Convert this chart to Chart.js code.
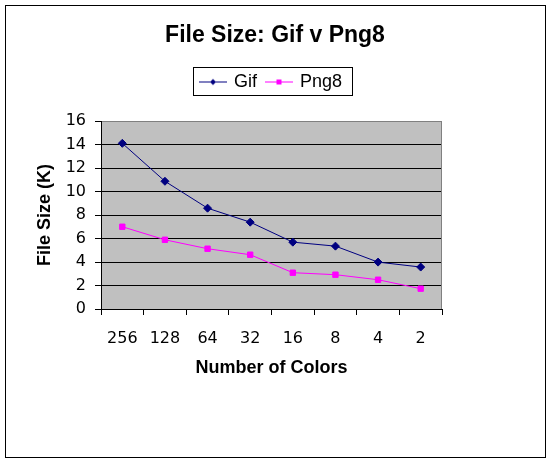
<!DOCTYPE html>
<html><head><meta charset="utf-8">
<script src="https://cdn.jsdelivr.net/npm/chart.js@4"></script>
<style>html,body{margin:0;padding:0;background:#fff}canvas{display:block}</style>
</head><body>
<canvas id="c" width="551" height="463"></canvas>
<script>
const categories = ['256', '128', '64', '32', '16', '8', '4', '2'];
const gifValues = [14.1, 10.87, 8.58, 7.39, 5.69, 5.35, 3.99, 3.57];
const png8Values = [7.0, 5.89, 5.13, 4.62, 3.09, 2.92, 2.49, 1.73];
const yTickValues = [0, 2, 4, 6, 8, 10, 12, 14, 16];
const seriesNames = ['Gif', 'Png8'];
const seriesColors = ['#000080', '#FF00FF'];
const chartTitle = 'File Size: Gif v Png8';
const xTitle = 'Number of Colors';
const yTitle = 'File Size (K)';

const FAM = "'Liberation Sans', Arial, sans-serif";
const TICKFAM = "'DejaVu Sans', 'Liberation Sans', sans-serif";

function makeSymbol(color, shape) {
  const c = document.createElement('canvas');
  c.width = 28; c.height = 9;
  const g = c.getContext('2d');
  g.strokeStyle = color; g.lineWidth = 1;
  g.beginPath(); g.moveTo(0, 4.5); g.lineTo(28, 4.5); g.stroke();
  g.fillStyle = color;
  g.beginPath();
  if (shape === 'diamond') {
    g.moveTo(14, 1.5); g.lineTo(17, 4.5); g.lineTo(14, 7.5); g.lineTo(11, 4.5); g.closePath(); g.fill();
  } else {
    g.fillRect(11.5, 2, 5, 5);
  }
  return c;
}
const legendSymbols = [makeSymbol(seriesColors[0], 'diamond'), makeSymbol(seriesColors[1], 'square')];

const decor = {
  id: 'decor',
  beforeDraw(chart) {
    const ctx = chart.ctx, a = chart.chartArea;
    ctx.save();
    ctx.fillStyle = '#ffffff';
    ctx.fillRect(0, 0, chart.width, chart.height);
    ctx.fillStyle = '#C0C0C0';
    ctx.fillRect(a.left, a.top, a.right - a.left, a.bottom - a.top);
    ctx.restore();
  },
  beforeDatasetsDraw(chart) {
    const ctx = chart.ctx, a = chart.chartArea;
    ctx.save();
    ctx.strokeStyle = '#808080'; ctx.lineWidth = 1;
    ctx.beginPath();
    const x = Math.round(a.right) - 0.5;
    ctx.moveTo(x, Math.round(a.top) + 0.5); ctx.lineTo(x, a.bottom);
    ctx.stroke();
    ctx.restore();
  },
  afterDraw(chart) {
    const ctx = chart.ctx;
    ctx.save();
    ctx.strokeStyle = '#000'; ctx.lineWidth = 1;
    ctx.strokeRect(5.5, 5.5, 540, 452);
    const hb = chart.legend && chart.legend.legendHitBoxes;
    if (hb && hb.length) {
      const first = hb[0], last = hb[hb.length - 1];
      const cy = first.top + 9;
      const l = Math.round(first.left - 8) + 0.5;
      const r = Math.round(last.left + last.width + 10) + 0.5;
      const t = Math.round(cy - 15) + 0.5;
      const b = Math.round(cy + 13) + 0.5;
      ctx.strokeRect(l, t, r - l, b - t);
    }
    ctx.restore();
  }
};

new Chart(document.getElementById('c'), {
  type: 'line',
  data: {
    labels: categories,
    datasets: [
      { label: seriesNames[0], data: gifValues, borderColor: seriesColors[0], backgroundColor: seriesColors[0],
        pointBackgroundColor: seriesColors[0], pointBorderColor: seriesColors[0], pointStyle: 'rectRot',
        pointRadius: 4, pointHoverRadius: 4, pointBorderWidth: 1, borderWidth: 1, tension: 0, fill: false },
      { label: seriesNames[1], data: png8Values, borderColor: seriesColors[1], backgroundColor: seriesColors[1],
        pointBackgroundColor: seriesColors[1], pointBorderColor: seriesColors[1], pointStyle: 'rect',
        pointRadius: 3.8, pointHoverRadius: 3.8, pointBorderWidth: 1, borderWidth: 1, tension: 0, fill: false }
    ]
  },
  options: {
    responsive: false,
    animation: false,
    events: [],
    devicePixelRatio: 1,
    layout: { padding: { left: 5, right: 6, top: 5, bottom: 84 } },
    plugins: {
      tooltip: { enabled: false },
      title: { display: true, text: chartTitle, color: '#000', fullSize: true,
        font: { family: FAM, size: 23, weight: 'bold', lineHeight: 1.2 }, padding: { top: 17, bottom: 13.4 } },
      legend: {
        display: true, position: 'top', fullSize: false,
        labels: {
          color: '#000', font: { family: FAM, size: 18 }, padding: 10,
          usePointStyle: true, pointStyleWidth: 24,
          generateLabels(chart) {
            const items = Chart.defaults.plugins.legend.labels.generateLabels(chart);
            items.forEach((it, i) => { it.pointStyle = legendSymbols[i]; });
            return items;
          }
        }
      },
      subtitle: { display: true, text: ' ', weight: 500, fullSize: false, font: { size: 1, lineHeight: 1 }, padding: { top: 19, bottom: 0 } }
    },
    scales: {
      x: {
        type: 'category', offset: true,
        grid: { display: true, offset: true, drawOnChartArea: false, drawTicks: true, tickLength: 6, tickColor: '#000', color: '#000' },
        border: { display: true, color: '#000', width: 1 },
        ticks: { color: '#000', font: { family: TICKFAM, size: 16 }, padding: 14, maxRotation: 0, autoSkip: false },
        title: { display: true, text: xTitle, color: '#000', font: { family: FAM, size: 18, weight: 'bold', lineHeight: 1.2 }, padding: { top: 0, bottom: 0 } },
        afterFit(s) { s.height = 70; }
      },
      y: {
        type: 'linear', position: 'left', min: 0, max: 16,
        afterBuildTicks(s) { s.ticks = yTickValues.map(v => ({ value: v })); },
        grid: { display: true, drawOnChartArea: true, drawTicks: true, tickLength: 6, tickColor: '#000',
          color: (c) => (c.tick && c.tick.value === 16) ? '#808080' : '#000', lineWidth: 1 },
        border: { display: true, color: '#000', width: 1 },
        ticks: { color: '#000', font: { family: TICKFAM, size: 16 }, padding: 9 },
        title: { display: true, text: yTitle, color: '#000', font: { family: FAM, size: 18, weight: 'bold', lineHeight: 1.2 }, padding: { top: 29, bottom: 0 } },
        afterFit(s) { s.width = 96; }
      },
      yRight: {
        type: 'linear', position: 'right', display: true,
        grid: { display: false, drawTicks: false }, border: { display: false },
        ticks: { display: false },
        afterFit(s) { s.width = 103; }
      }
    }
  },
  plugins: [decor]
});
</script>
</body></html>
